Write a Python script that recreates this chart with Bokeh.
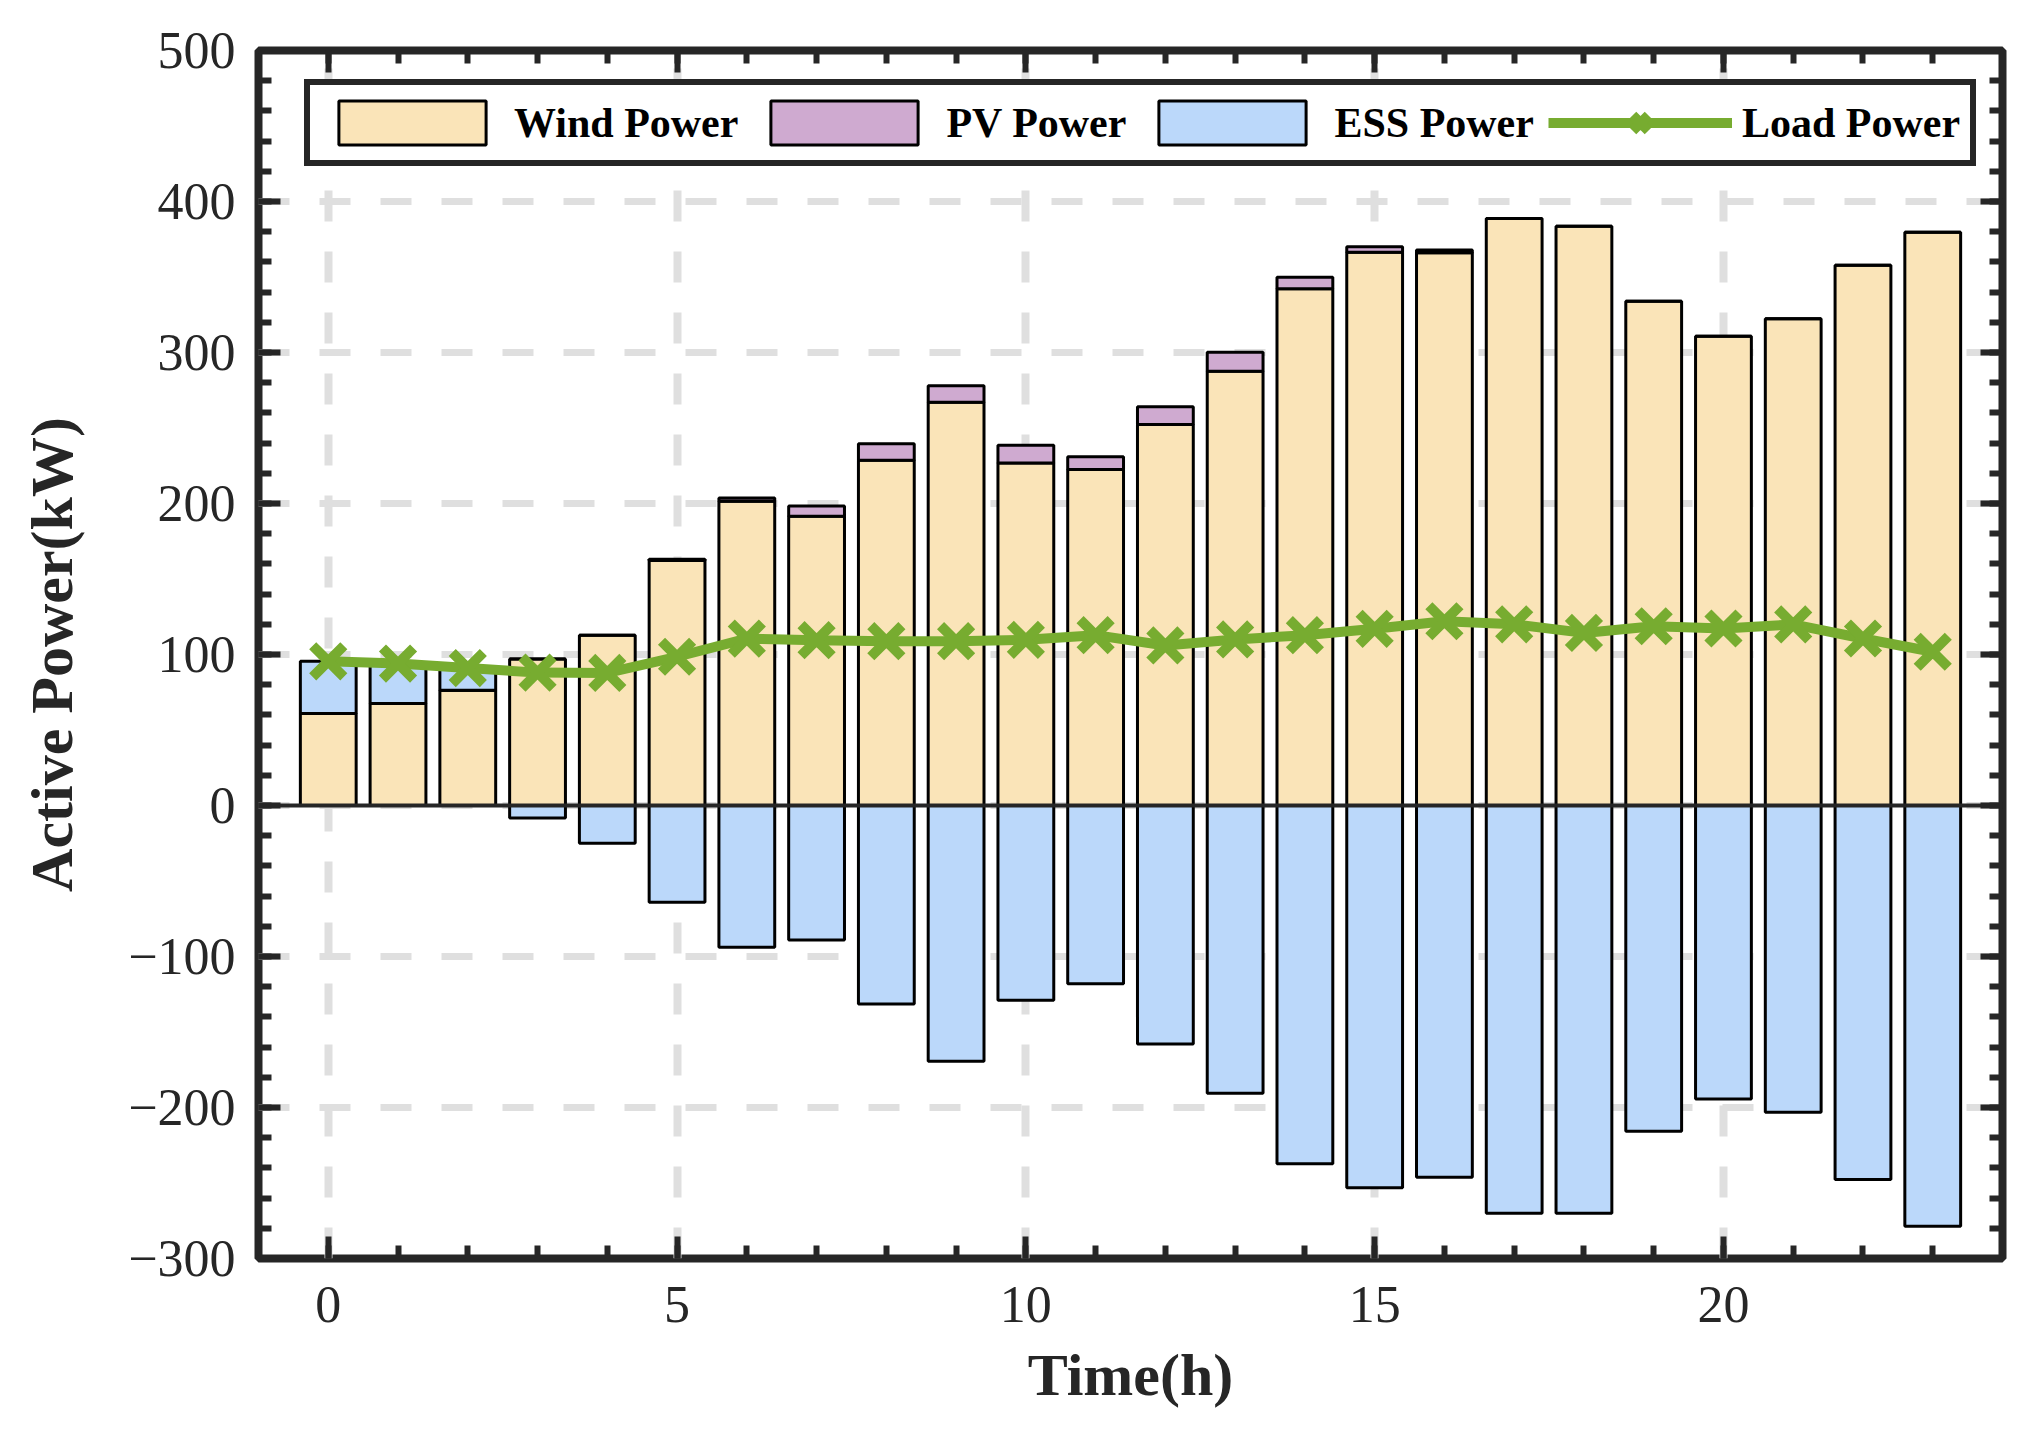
import numpy as np
from bokeh.plotting import figure
from bokeh.models import (Range1d, SingleIntervalTicker, FixedTicker, LinearAxis, Span,
                          Legend, LegendItem)
from bokeh.embed import file_html
from bokeh.resources import INLINE

# ---------------- data ----------------
hours = list(range(24))
wind = [61, 67.5, 76.3, 97, 112.8, 162.2, 201.5, 191.6, 228.7, 267, 226.9, 222.5,
        252.4, 287.6, 342.2, 366.4, 366, 388.7, 383.6, 334, 310.8, 322.3, 357.8, 379.7]
pv = [0, 0, 0, 0, 0, 0.8, 2.2, 6.8, 10.8, 11, 11.7, 8.4,
      11.6, 12.6, 7.7, 3.6, 1.8, 0, 0, 0, 0, 0, 0, 0]
ess = [34.6, 26.5, 14.7, -8.2, -25, -64, -93.8, -89, -131.4, -169.3, -129, -118.1,
       -158, -190.5, -237.3, -253.2, -246.2, -270, -270, -215.7, -194.3, -203.1, -247.7, -278.6]
load = [95.5, 94, 91, 88, 87.8, 98.5, 110.5, 109.5, 108.8, 108.8, 109.7, 112.8,
        106, 110, 112.8, 117, 122, 120, 114.3, 118.7, 117.2, 119.9, 110.6, 101.8]

series_names = ["Wind Power", "PV Power", "ESS Power", "Load Power"]
x_major_ticks = [0, 5, 10, 15, 20]
x_minor_ticks = list(range(0, 24))
y_major_ticks = [-300, -200, -100, 0, 100, 200, 300, 400, 500]
y_minor_ticks = list(range(-280, 500, 20))
y_tick_labels = ["\u2212300", "\u2212200", "\u2212100", "0", "100", "200", "300", "400", "500"]

WIND_C = "#FAE4B8"
PV_C = "#CFAAD0"
ESS_C = "#BBD8FA"
LOAD_C = "#77AC30"
DARK = "#262626"
FONT = "Liberation Serif"

# ---------------- figure ----------------
p = figure(width=2027, height=1414, x_range=Range1d(-1, 24), y_range=Range1d(-300, 500),
           output_backend="svg", toolbar_location=None,
           min_border_left=258, min_border_right=25, min_border_top=50, min_border_bottom=156)
p.background_fill_color = "white"
p.border_fill_color = "white"
p.outline_line_color = DARK
p.outline_line_width = 8
p.outline_line_alpha = 1.0

xticker = SingleIntervalTicker(interval=5, num_minor_ticks=5)
yticker = SingleIntervalTicker(interval=100, num_minor_ticks=5)

# grid
p.xgrid.ticker = xticker
p.ygrid.ticker = yticker
p.xgrid.grid_line_color = "#DFDFDF"
p.ygrid.grid_line_color = "#DFDFDF"
p.xgrid.grid_line_width = 8
p.ygrid.grid_line_width = 7
p.xgrid.grid_line_dash = "31 30"
p.ygrid.grid_line_dash = "31 30"


def style_axis(ax, ticker):
    ax.ticker = ticker
    ax.axis_line_color = None
    ax.major_tick_in = 22
    ax.major_tick_out = 0
    ax.minor_tick_in = 13
    ax.minor_tick_out = 0
    ax.major_tick_line_width = 6
    ax.minor_tick_line_width = 6
    ax.major_tick_line_color = DARK
    ax.minor_tick_line_color = DARK
    ax.major_label_text_font = FONT
    ax.major_label_text_font_size = "52px"
    ax.major_label_text_color = DARK
    ax.axis_label_text_font = FONT
    ax.axis_label_text_font_style = "bold"
    ax.axis_label_text_font_size = "60px"
    ax.axis_label_text_color = DARK


xa = p.xaxis[0]
ya = p.yaxis[0]
style_axis(xa, xticker)
style_axis(ya, yticker)
xa.major_label_standoff = 28
ya.major_label_standoff = 23
xa.axis_label = "Time(h)"
ya.axis_label = "Active Power(kW)"
xa.axis_label_standoff = 17
ya.axis_label_standoff = 40
ya.major_label_overrides = {t: s for t, s in zip(y_major_ticks, y_tick_labels)}
xa.major_label_overrides = {t: str(t) for t in x_major_ticks}


def mirror_axis(minor_positions, tick_len, place):
    ax = LinearAxis(ticker=FixedTicker(ticks=[], minor_ticks=minor_positions))
    ax.axis_line_color = None
    ax.major_tick_in = 0
    ax.major_tick_out = 0
    ax.minor_tick_in = tick_len
    ax.minor_tick_out = 0
    ax.minor_tick_line_width = 6
    ax.minor_tick_line_color = DARK
    ax.major_label_standoff = 0
    p.add_layout(ax, place)


# ticks on the top and right edges (box on)
mirror_axis(x_major_ticks, 22, "above")
mirror_axis(x_minor_ticks, 13, "above")
mirror_axis(y_major_ticks, 22, "right")
mirror_axis(y_minor_ticks, 13, "right")

# ---------------- bars ----------------
w = np.array(wind, dtype=float)
pvv = np.array(pv, dtype=float)
e = np.array(ess, dtype=float)
pos_base = w + pvv
ess_bottom = np.where(e > 0, pos_base, 0.0)
ess_top = np.where(e > 0, pos_base + e, e)

r_wind = p.vbar(x=hours, width=0.8, bottom=0, top=w, fill_color=WIND_C,
                line_color="black", line_width=3)
r_pv = p.vbar(x=hours, width=0.8, bottom=w, top=pos_base, fill_color=PV_C,
              line_color="black", line_width=3)
r_ess = p.vbar(x=hours, width=0.8, bottom=ess_bottom, top=ess_top, fill_color=ESS_C,
               line_color="black", line_width=3)

zero = Span(location=0, dimension="width", line_color=DARK, line_width=4)
p.add_layout(zero)

r_line = p.line(hours, load, line_color=LOAD_C, line_width=10)
r_mark = p.scatter(hours, load, marker="x", size=44, line_color=LOAD_C, line_width=10)

legend = Legend(items=[
    LegendItem(label=series_names[0], renderers=[r_wind]),
    LegendItem(label=series_names[1], renderers=[r_pv]),
    LegendItem(label=series_names[2], renderers=[r_ess]),
    LegendItem(label=series_names[3], renderers=[r_line, r_mark]),
], orientation="horizontal", location=(46, 1092))
legend.label_text_font = FONT
legend.label_text_font_style = "bold"
legend.label_text_font_size = "42px"
legend.label_text_color = "black"
legend.glyph_width = 184
legend.glyph_height = 55
legend.label_standoff = 10
legend.spacing = 14
legend.padding = 10
legend.margin = 0
legend.border_line_color = DARK
legend.border_line_width = 6
legend.border_line_alpha = 1.0
legend.background_fill_color = "white"
legend.background_fill_alpha = 1.0
p.add_layout(legend)

open("out.html", "w").write(file_html(p, INLINE))
